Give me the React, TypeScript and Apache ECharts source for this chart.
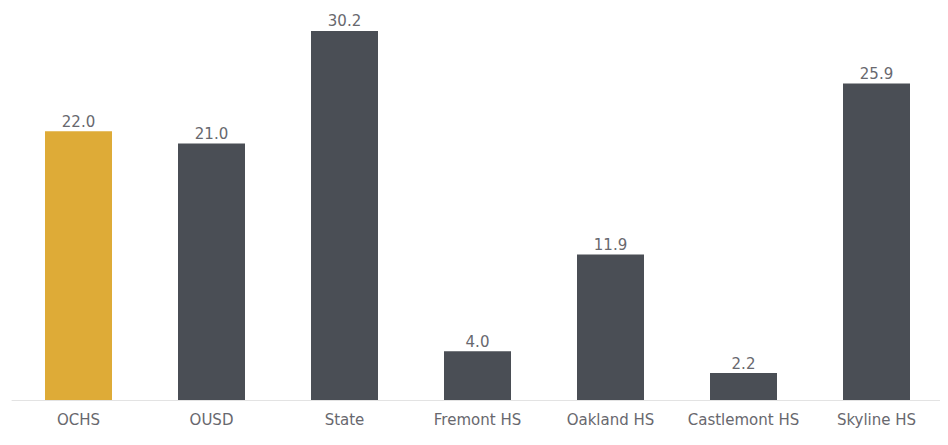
import React, { useEffect, useRef } from "react";
import * as echarts from "echarts";

const categories = ["OCHS", "OUSD", "State", "Fremont HS", "Oakland HS", "Castlemont HS", "Skyline HS"];
const values = [22.0, 21.0, 30.2, 4.0, 11.9, 2.2, 25.9];
const barColors = ["#DEAB37", "#4A4E55", "#4A4E55", "#4A4E55", "#4A4E55", "#4A4E55", "#4A4E55"];

export default function App() {
  const ref = useRef<HTMLDivElement>(null);
  useEffect(() => {
    if (!ref.current) return;
    const chart = echarts.init(ref.current, null, { renderer: "svg" });
    chart.setOption({
      animation: false,
      grid: { left: 12, right: 5, top: 9, bottom: 45, containLabel: false },
      xAxis: {
        type: "category",
        data: categories,
        axisLine: { show: true, lineStyle: { color: "#E3E3E3", width: 1 } },
        axisTick: { show: false },
        axisLabel: { interval: 0, color: "#68686e", fontSize: 15, fontFamily: "DejaVu Sans, sans-serif", margin: 12 },
      },
      yAxis: {
        type: "value",
        min: 0,
        max: 32,
        show: false,
        splitLine: { show: false },
      },
      series: [
        {
          type: "bar",
          barWidth: 67,
          data: values.map((v, i) => ({ value: v, itemStyle: { color: barColors[i] } })),
          label: {
            show: true,
            position: "top",
            distance: 2,
            color: "#68686e",
            fontSize: 15,
            fontFamily: "DejaVu Sans, sans-serif",
            formatter: (p: any) => Number(p.value).toFixed(1),
          },
        },
      ],
    });
    return () => chart.dispose();
  }, []);
  return <div ref={ref} style={{ width: 948, height: 445, margin: -8 }} />;
}
